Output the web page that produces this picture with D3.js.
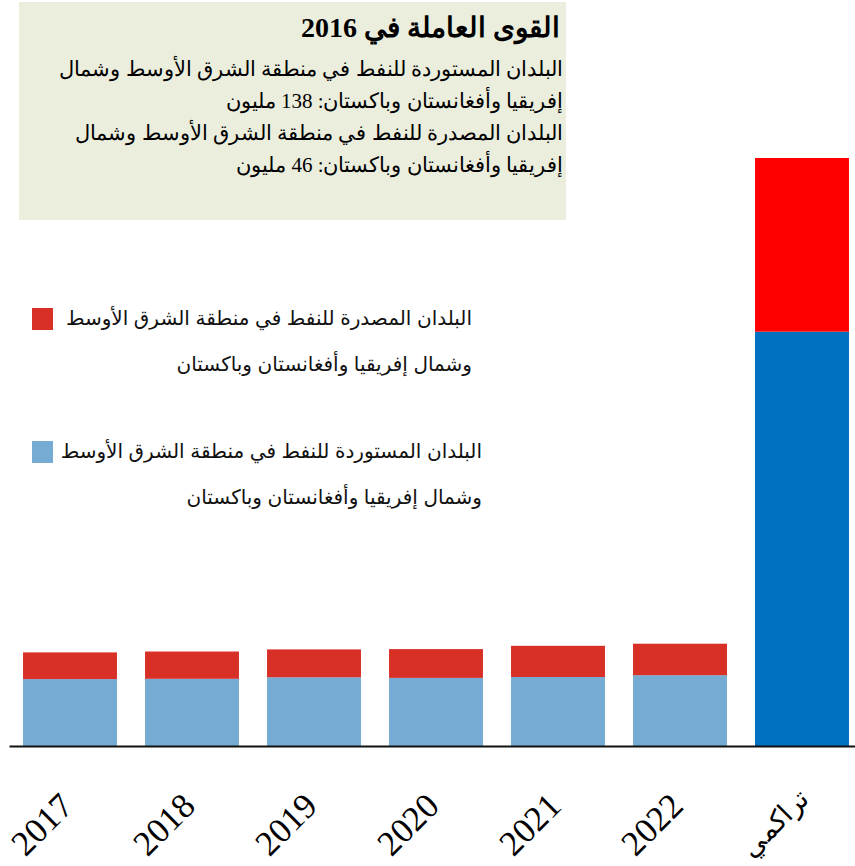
<!DOCTYPE html>
<html>
<head>
<meta charset="utf-8">
<script src="https://cdn.jsdelivr.net/npm/d3@7"></script>
<style>
  body { margin: 0; background: #fff; }
  svg { display: block; }
</style>
</head>
<body>
<div id="chart"></div>
<script>
// Data
const categories = ["2017", "2018", "2019", "2020", "2021", "2022", "تراكمي"];
const importers = [2.23, 2.24, 2.29, 2.27, 2.30, 2.36, 13.81];
const exporters = [0.89, 0.91, 0.93, 0.96, 1.04, 1.05, 5.79];
const seriesNames = [
  ["البلدان المصدرة للنفط في منطقة الشرق الأوسط", "وشمال إفريقيا وأفغانستان وباكستان"],
  ["البلدان المستوردة للنفط في منطقة الشرق الأوسط", "وشمال إفريقيا وأفغانستان وباكستان"]
];
const titleText = "القوى العاملة في 2016";
const noteLines = [
  "البلدان المستوردة للنفط في منطقة الشرق الأوسط وشمال",
  "إفريقيا وأفغانستان وباكستان: 138 مليون",
  "البلدان المصدرة للنفط في منطقة الشرق الأوسط وشمال",
  "إفريقيا وأفغانستان وباكستان: 46 مليون"
];

const width = 855, height = 866;
const baseY = 746;
const serif = "'Liberation Serif', 'Times New Roman', serif";

const svg = d3.select("#chart").append("svg")
  .attr("width", width)
  .attr("height", height);

const x = d3.scaleBand()
  .domain(categories)
  .range([9, 863])
  .paddingInner(0.23)
  .paddingOuter(0.115);

const y = d3.scaleLinear()
  .domain([0, 20])
  .range([baseY, baseY - 600]);

const rows = categories.map((c, i) => ({ cat: c, imp: importers[i], exp: exporters[i], cum: i === categories.length - 1 }));

// bars
const bars = svg.append("g");
bars.selectAll("rect.imp")
  .data(rows)
  .join("rect")
  .attr("class", "imp")
  .attr("x", d => x(d.cat))
  .attr("width", x.bandwidth())
  .attr("y", d => y(d.imp))
  .attr("height", d => y(0) - y(d.imp))
  .attr("fill", d => d.cum ? "#0070c0" : "#76acd3");

bars.selectAll("rect.exp")
  .data(rows)
  .join("rect")
  .attr("class", "exp")
  .attr("x", d => x(d.cat))
  .attr("width", x.bandwidth())
  .attr("y", d => y(d.imp + d.exp))
  .attr("height", d => y(d.imp) - y(d.imp + d.exp))
  .attr("fill", d => d.cum ? "#ff0000" : "#d83027");

// x axis
const xAxis = svg.append("g")
  .attr("transform", `translate(0,${baseY})`)
  .call(d3.axisBottom(x).tickSize(0).tickPadding(0));
xAxis.attr("font-family", serif);
xAxis.select(".domain").attr("stroke", "#111").attr("stroke-width", 2);
xAxis.selectAll(".tick text")
  .attr("font-family", serif)
  .attr("font-size", d => d === "تراكمي" ? 27 : 35)
  .attr("fill", "#000")
  .attr("text-anchor", "end")
  .attr("dy", null)
  .attr("y", 0)
  .attr("transform", d => d === "تراكمي"
    ? "translate(9,54) rotate(-45)"
    : "translate(5,62) rotate(-45)");

// header box
svg.append("rect")
  .attr("x", 19).attr("y", 2)
  .attr("width", 547).attr("height", 218)
  .attr("fill", "#ebeedd");

svg.append("text")
  .attr("x", 560).attr("y", 37)
  .attr("direction", "rtl")
  .attr("text-anchor", "start")
  .attr("font-family", serif)
  .attr("font-weight", "bold")
  .attr("font-size", 28)
  .text(titleText);

svg.append("g").selectAll("text")
  .data(noteLines)
  .join("text")
  .attr("x", 563)
  .attr("y", (d, i) => 76 + i * 32)
  .attr("direction", "rtl")
  .attr("text-anchor", "start")
  .attr("font-family", serif)
  .attr("font-size", 21)
  .attr("fill", "#000")
  .text(d => d);

// legend
const legendColors = ["#d83027", "#76acd3"];
const legend = svg.append("g").selectAll("g")
  .data(seriesNames)
  .join("g")
  .attr("transform", (d, i) => `translate(0,${i * 133})`);
legend.append("rect")
  .attr("x", 32).attr("y", 308)
  .attr("width", 21).attr("height", 22)
  .attr("fill", (d, i) => legendColors[i]);
legend.each(function (d, i) {
  const g = d3.select(this);
  const right = i === 0 ? 472 : 482;
  d.forEach((line, j) => {
    g.append("text")
      .attr("x", right)
      .attr("y", 325 + j * 46)
      .attr("direction", "rtl")
      .attr("text-anchor", "start")
      .attr("font-family", "'Liberation Sans', Arial, 'DejaVu Sans', sans-serif")
      .attr("font-size", 20)
      .attr("fill", "#111")
      .text(line);
  });
});
</script>
</body>
</html>
